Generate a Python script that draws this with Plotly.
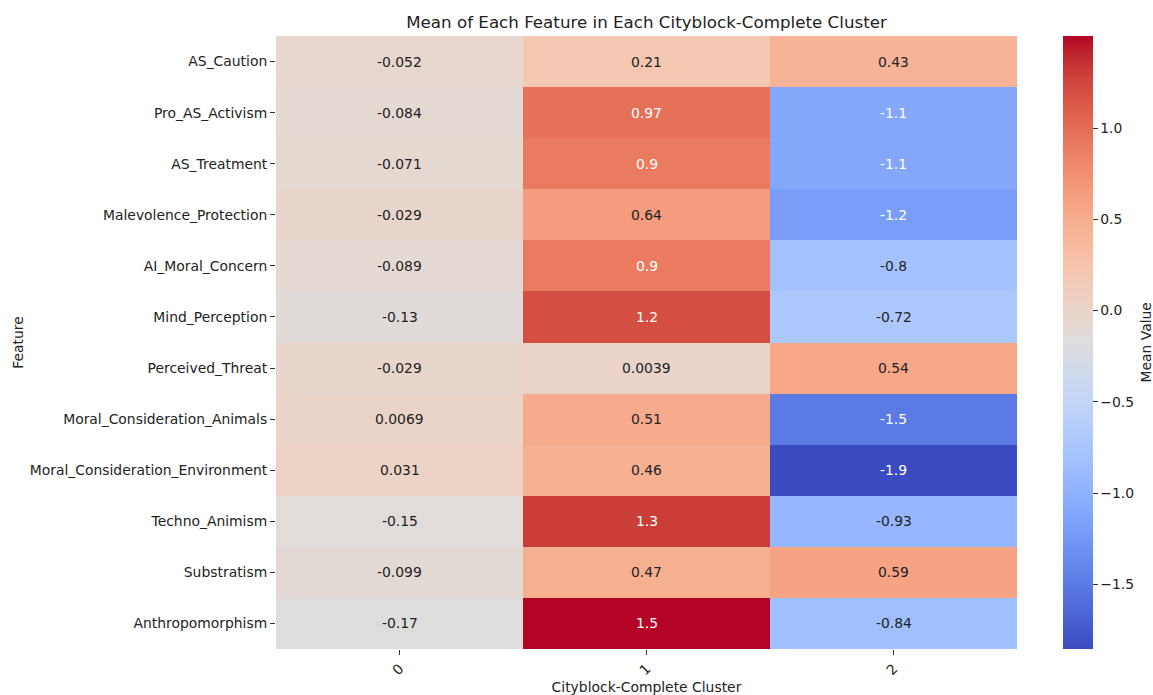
import plotly.graph_objects as go

# Cluster means per feature (rows) and cluster (columns)
features = [
    "AS_Caution", "Pro_AS_Activism", "AS_Treatment", "Malevolence_Protection",
    "AI_Moral_Concern", "Mind_Perception", "Perceived_Threat",
    "Moral_Consideration_Animals", "Moral_Consideration_Environment",
    "Techno_Animism", "Substratism", "Anthropomorphism",
]
clusters = ["0", "1", "2"]
cluster_0 = [-0.052, -0.084, -0.071, -0.029, -0.089, -0.13, -0.029, 0.0069, 0.031, -0.15, -0.099, -0.17]
cluster_1 = [0.21, 0.97, 0.9, 0.64, 0.9, 1.2, 0.0039, 0.51, 0.46, 1.3, 0.47, 1.505]
cluster_2 = [0.43, -1.1, -1.1, -1.2, -0.8, -0.72, 0.54, -1.5, -1.855, -0.93, 0.59, -0.84]
cbar_ticks = [-1.5, -1.0, -0.5, 0.0, 0.5, 1.0]

# matplotlib "coolwarm" control points
cw_pos = [i / 32 for i in range(33)]
cw_r = [0.2298057, 0.26623388, 0.30386891, 0.342804478, 0.38301334, 0.424369608, 0.46666708,
        0.509635204, 0.552953156, 0.596262162, 0.639176211, 0.681291281, 0.722193294,
        0.761464949, 0.798691636, 0.833466556, 0.865395197, 0.897787179, 0.924127593,
        0.944468518, 0.958852946, 0.96732803, 0.969954137, 0.966811177, 0.958003065,
        0.943660866, 0.923944917, 0.89904617, 0.869186849, 0.834620542, 0.795631745,
        0.752534934, 0.705673158]
cw_g = [0.298717966, 0.353094838, 0.406535296, 0.458757618, 0.50941904, 0.558148092,
        0.604562568, 0.648280772, 0.688929332, 0.726149107, 0.759599947, 0.788964712,
        0.813952739, 0.834302879, 0.849786142, 0.860207984, 0.86541021, 0.848937047,
        0.827384882, 0.800927443, 0.769767752, 0.734132809, 0.694266682, 0.650421156,
        0.602842431, 0.551750968, 0.49730856, 0.439559467, 0.378313092, 0.312874446,
        0.24128379, 0.157246067, 0.01555616]
cw_b = [0.753683153, 0.801466763, 0.84495867, 0.883725899, 0.917387822, 0.945619588,
        0.968154911, 0.98478814, 0.995375608, 0.999836203, 0.998151185, 0.990363227,
        0.976574709, 0.956945269, 0.931688648, 0.901068838, 0.865395561, 0.820880546,
        0.774508472, 0.726736146, 0.678007945, 0.628751763, 0.579375448, 0.530263762,
        0.481775914, 0.434243684, 0.387970225, 0.343229596, 0.300267182, 0.259301199,
        0.220525627, 0.184115123, 0.150232812]

colorscale = [
    [p, f"rgb({round(r * 255)},{round(g * 255)},{round(b * 255)})"]
    for p, r, g, b in zip(cw_pos, cw_r, cw_g, cw_b)
]

z = [[a, b, c] for a, b, c in zip(cluster_0, cluster_1, cluster_2)]
zmin = min(min(row) for row in z)
zmax = max(max(row) for row in z)


def cmap_rgb(v):
    t = (v - zmin) / (zmax - zmin)
    t = min(max(t, 0.0), 1.0)
    for i in range(len(cw_pos) - 1):
        if cw_pos[i] <= t <= cw_pos[i + 1]:
            f = (t - cw_pos[i]) / (cw_pos[i + 1] - cw_pos[i])
            return tuple(ch[i] + f * (ch[i + 1] - ch[i]) for ch in (cw_r, cw_g, cw_b))
    return (cw_r[-1], cw_g[-1], cw_b[-1])


def luminance(rgb):
    lin = [c / 12.92 if c <= 0.03928 else ((c + 0.055) / 1.055) ** 2.4 for c in rgb]
    return 0.2126 * lin[0] + 0.7152 * lin[1] + 0.0722 * lin[2]


FONT = "DejaVu Sans"
FS = 13.9
TXT = "#222222"

# plot area in pixels
L, R, T, B = 276, 1017, 36, 649
W, H = 1153, 695
pw = R - L

fig = go.Figure(
    go.Heatmap(
        z=z,
        x=clusters,
        y=features,
        zmin=zmin,
        zmax=zmax,
        colorscale=colorscale,
        showscale=True,
        colorbar=dict(
            x=(1063 - L) / pw,
            xanchor="left",
            xpad=0,
            y=0.5,
            yanchor="middle",
            ypad=0,
            len=1.0,
            lenmode="fraction",
            thickness=30,
            thicknessmode="pixels",
            outlinewidth=0,
            tickvals=cbar_ticks,
            ticktext=[f"{t:.1f}".replace("-", "\u2212") for t in cbar_ticks],
            ticks="outside",
            ticklen=5,
            tickwidth=1,
            tickcolor="#333",
            tickfont=dict(family=FONT, size=FS, color=TXT),
        ),
    )
)

annotations = []
for feat, row in zip(features, z):
    for cl, v in zip(clusters, row):
        col = TXT if luminance(cmap_rgb(v)) > 0.408 else "#ffffff"
        annotations.append(dict(
            x=cl, y=feat, xref="x", yref="y", text=format(v, ".2g"),
            showarrow=False, font=dict(family=FONT, size=FS, color=col),
        ))

# colourbar label
annotations.append(dict(
    x=(1145 - L) / pw, y=0.5, xref="paper", yref="paper",
    text="Mean Value", textangle=-90, showarrow=False,
    xanchor="center", yanchor="middle",
    font=dict(family=FONT, size=FS, color=TXT),
))

fig.update_layout(
    width=W,
    height=H,
    margin=dict(l=L, r=W - R, t=T, b=H - B, autoexpand=False),
    paper_bgcolor="white",
    plot_bgcolor="white",
    font=dict(family=FONT, color=TXT),
    title=dict(
        text="Mean of Each Feature in Each Cityblock-Complete Cluster",
        x=0.5 * (L + R) / W, xanchor="center",
        y=1 - 22 / H, yanchor="middle",
        font=dict(family=FONT, size=16.7, color=TXT),
    ),
    annotations=annotations,
    xaxis=dict(
        title=dict(text="Cityblock-Complete Cluster", standoff=8,
                   font=dict(family=FONT, size=FS, color=TXT)),
        tickangle=-45,
        ticks="outside", ticklen=5, tickcolor="#333",
        tickfont=dict(family=FONT, size=FS, color=TXT),
        showgrid=False, zeroline=False, showline=False,
    ),
    yaxis=dict(
        title=dict(text="Feature", standoff=2,
                   font=dict(family=FONT, size=FS, color=TXT)),
        autorange="reversed",
        ticks="outside", ticklen=5, tickcolor="#333",
        tickfont=dict(family=FONT, size=FS, color=TXT),
        showgrid=False, zeroline=False, showline=False,
    ),
)

fig.write_html("out.html")
